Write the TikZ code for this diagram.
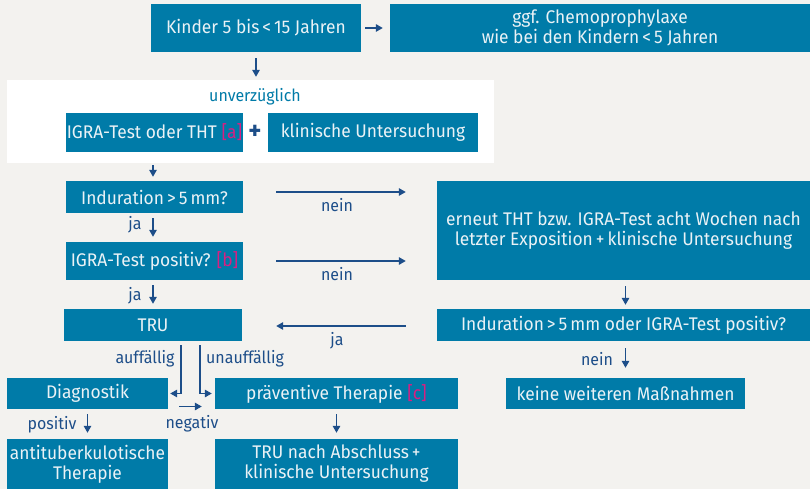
\documentclass[tikz,border=0pt]{standalone}
\usepackage{fontspec}
\setmainfont{Fira Sans}[FakeStretch=0.95]
\usetikzlibrary{arrows.meta}
\definecolor{bg}{HTML}{F3F2EF}
\definecolor{boxblue}{HTML}{007BA8}
\definecolor{boxtext}{HTML}{EAF2F6}
\definecolor{navy}{HTML}{1D4E89}
\definecolor{mag}{HTML}{D81F82}
\newcommand{\refmark}[1]{{\color{mag}[#1]}}
\tikzset{
  box/.style={fill=boxblue, text=boxtext, inner sep=0pt, align=center,
    font=\fontsize{18.3}{20}\selectfont},
  sz/.style 2 args={minimum width=#1pt, minimum height=#2pt},
  arr/.style={draw=navy, line width=1.5pt, -{Triangle[length=7pt,width=7.5pt]}},
  lbl/.style={text=navy, inner sep=0pt, font=\fontsize{16.8}{19}\selectfont},
}
\begin{document}
\begin{tikzpicture}[x=1pt,y=-1pt]
\fill[bg] (0,0) rectangle (810,489);
\useasboundingbox (0,0) rectangle (810,489);

% white panel for the immediate examination step
\node[fill=white, inner sep=0pt, sz={487}{83}] (white) at (250.5,121.5) {};

% boxes
\node[box, sz={210}{48}] (kinder) at (256,28) {Kinder 5 bis\,<\,15 Jahren};
\node[box, sz={420}{48}] (ggf) at (600,28) {ggf. Chemoprophylaxe\\wie bei den Kindern\,<\,5 Jahren};
\node[text=boxblue, inner sep=0pt, font=\fontsize{16.8}{19}\selectfont] (unv) at (255,97) {unverzüglich};
\node[box, sz={177}{39}] (igra) at (154.5,132.5) {IGRA-Test oder THT \refmark{a}};
\node[text=navy, inner sep=0pt, font=\fontsize{26}{26}\selectfont\bfseries] (plus) at (255,132) {+};
\node[box, sz={210}{39}] (klin) at (373,132.5) {klinische Untersuchung};
\node[box, sz={177}{32}] (ind) at (154.5,197) {Induration\,>\,5\,mm?};
\node[box, sz={177}{38}] (igrapos) at (154.5,261) {IGRA-Test positiv? \refmark{b}};
\node[box, sz={178}{32}] (tru) at (153,325) {TRU};
\node[box, sz={373}{99}] (erneut) at (623.5,230.5) {erneut THT bzw. IGRA-Test acht Wochen nach\\letzter Exposition\,+\,klinische Untersuchung};
\node[box, sz={373}{32}] (indoder) at (623.5,325) {Induration\,>\,5\,mm oder IGRA-Test positiv?};
\node[box, sz={239}{31}] (keine) at (625.5,393.5) {keine weiteren Maßnahmen};
\node[box, sz={161}{31}] (diag) at (87.5,393.5) {Diagnostik};
\node[box, sz={243}{31}] (prav) at (336.5,393.5) {präventive Therapie \refmark{c}};
\node[box, sz={161}{50}] (antitb) at (87.5,464) {antituberkulotische\\Therapie};
\node[box, sz={243}{50}] (truend) at (336.5,464) {TRU nach Abschluss\,+\\klinische Untersuchung};

% connectors
\draw[arr, shorten <=4pt, shorten >=7pt] (kinder.east) -- (kinder.east -| ggf.west);
\draw[arr, shorten <=6pt, shorten >=3pt] (kinder.south) -- (kinder.south |- white.north);
\draw[arr, shorten <=2pt, shorten >=4pt] ([xshift=-1.5pt]igra.south |- white.south) -- ([xshift=-1.5pt]igra.south |- ind.north);
\draw[arr, shorten <=5pt, shorten >=5pt] ([xshift=-1.5pt]ind.south) -- ([xshift=-1.5pt]ind.south |- igrapos.north);
\draw[arr, shorten <=5pt, shorten >=5pt] ([xshift=-1.5pt]igrapos.south) -- ([xshift=-1.5pt]igrapos.south |- tru.north);

\coordinate (n1) at ([xshift=33pt,yshift=5pt]ind.east);
\draw[arr, shorten >=31pt] (n1) -- (n1 -| erneut.west);
\coordinate (n2) at ([xshift=33pt]igrapos.east);
\draw[arr, shorten >=31pt] (n2) -- (n2 -| erneut.west);
\coordinate (j1) at ([xshift=-31pt,yshift=-1pt]indoder.west);
\draw[arr, shorten >=34pt] (j1) -- (j1 -| tru.east);

\draw[arr, shorten <=6pt, shorten >=4pt] ([xshift=2pt]erneut.south) -- ([xshift=2pt]erneut.south |- indoder.north);
\draw[arr, shorten <=7pt, shorten >=10pt] ([xshift=2pt]indoder.south) -- ([xshift=2pt]indoder.south |- keine.north);

\draw[arr, shorten <=4pt, shorten >=2pt] ([xshift=28pt]tru.south) |- (diag.east);
\draw[arr, shorten <=4pt, shorten >=3pt] ([xshift=47pt]tru.south) |- (prav.west);
\coordinate (ng) at ([xshift=11pt,yshift=-13pt]diag.east);
\draw[arr, shorten >=13pt] (ng) -- (ng -| prav.west);

\draw[arr, shorten <=5pt, shorten >=6pt] (diag.south) -- (diag.south |- antitb.north);
\draw[arr, shorten <=5pt, shorten >=6pt] (prav.south) -- (prav.south |- truend.north);

% connector labels
\node[lbl] (ja1) at (135,225) {ja};
\node[lbl] (ja2) at (135,296) {ja};
\node[lbl] (nein1) at (337,205) {nein};
\node[lbl] (nein2) at (337,274) {nein};
\node[lbl] (ja3) at (337,341) {ja};
\node[lbl] (auff) at (145,359) {auffällig};
\node[lbl] (unauff) at (245,359) {unauffällig};
\node[lbl] (nein3) at (597,359) {nein};
\node[lbl] (pos) at (52,425) {positiv};
\node[lbl] (neg) at (192,424) {negativ};
\end{tikzpicture}
\end{document}
